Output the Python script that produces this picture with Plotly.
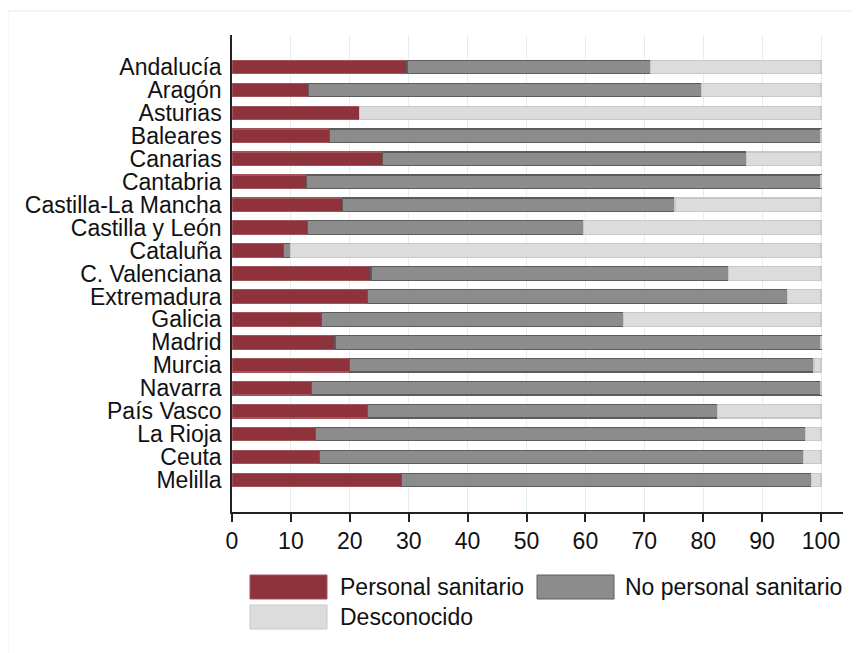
import plotly.graph_objects as go

regions = ["Andalucía", "Aragón", "Asturias", "Baleares", "Canarias", "Cantabria",
           "Castilla-La Mancha", "Castilla y León", "Cataluña", "C. Valenciana",
           "Extremadura", "Galicia", "Madrid", "Murcia", "Navarra", "País Vasco",
           "La Rioja", "Ceuta", "Melilla"]

personal_sanitario = [29.7, 13.0, 21.7, 16.6, 25.5, 12.7, 18.7, 12.8, 8.8, 23.6,
                      23.0, 15.2, 17.5, 20.0, 13.5, 23.0, 14.2, 14.9, 28.8]
no_personal_sanitario = [41.3, 66.7, 0.0, 83.4, 61.8, 87.3, 56.5, 46.9, 1.1, 60.7,
                         71.3, 51.2, 82.5, 78.8, 86.5, 59.4, 83.1, 82.1, 69.6]
desconocido = [29.0, 20.3, 78.3, 0.0, 12.7, 0.0, 24.8, 40.3, 90.1, 15.7,
               5.7, 33.6, 0.0, 1.2, 0.0, 17.6, 2.7, 3.0, 1.6]

x_ticks = [0, 10, 20, 30, 40, 50, 60, 70, 80, 90, 100]

series = [
    ("Personal sanitario", personal_sanitario, "#8e323c", "#a2545b"),
    ("No personal sanitario", no_personal_sanitario, "#8c8c8c", "#5c5c5c"),
    ("Desconocido", desconocido, "#dcdcdc", "#c8c8c8"),
]

FONT = "Arial, Liberation Sans, sans-serif"
FS = 23

fig = go.Figure()
for name, vals, fill, line in series:
    fig.add_trace(go.Bar(
        y=regions, x=vals, name=name, orientation="h",
        marker=dict(color=fill, line=dict(color=line, width=1.2)),
        width=0.59, showlegend=False,
    ))

# page offset (body margin) in the screenshot
OFF = 8
# plot area in screenshot pixels: left 232, right 843, top 35, bottom 512
PL, PR, PT, PB = 232, 843, 35, 512
def px(x):
    return (x - PL) / (PR - PL)
def py(y):
    return (PB - y) / (PB - PT)

shapes = []
annotations = []
# outer faint frame
shapes.append(dict(type="rect", xref="paper", yref="paper",
                   x0=px(8), x1=px(855), y0=py(680), y1=py(11),
                   line=dict(color="#ececec", width=1), fillcolor="rgba(0,0,0,0)",
                   layer="below"))

# legend drawn as swatches + text
legend_items = [
    (series[0], 250, 575, 340),
    (series[1], 537, 575, 625),
    (series[2], 250, 605, 340),
]
for (name, _, fill, line), sx, sy, tx in legend_items:
    shapes.append(dict(type="rect", xref="paper", yref="paper",
                       x0=px(sx), x1=px(sx + 77), y0=py(sy + 24), y1=py(sy),
                       fillcolor=fill, line=dict(color=line, width=1)))
    annotations.append(dict(xref="paper", yref="paper", x=px(tx - 2), y=py(sy + 12),
                            text=name, showarrow=False, xanchor="left", yanchor="middle",
                            font=dict(family=FONT, size=FS, color="#111111")))

ppu = 589.0 / 100.0
xmax = (PR - PL) / ppu
cat = (480 - 67) / 18.0

W, H = 861, 653
fig.update_layout(
    barmode="stack",
    width=W, height=H,
    margin=dict(l=PL - OFF, r=W - (PR - OFF), t=PT - OFF, b=H - (PB - OFF), pad=0),
    paper_bgcolor="white", plot_bgcolor="white",
    font=dict(family=FONT, size=FS, color="#111111"),
    xaxis=dict(range=[0, xmax], tickmode="array", tickvals=x_ticks, ticks="outside",
               ticklen=8, tickcolor="#222222", tickwidth=1.5, showline=True,
               linecolor="#222222", linewidth=1.5, showgrid=True, gridcolor="#e3eef1",
               gridwidth=1, zeroline=False,
               tickfont=dict(size=FS, family=FONT, color="#111111")),
    yaxis=dict(categoryorder="array", categoryarray=regions,
               tickmode="array", tickvals=regions, ticktext=regions,
               range=[18 + (PB - 480) / cat, -(67 - PT) / cat],
               showline=True, linecolor="#222222", linewidth=1.5, ticks="",
               showgrid=False, zeroline=False, ticklabelstandoff=4,
               tickfont=dict(size=FS, family=FONT, color="#111111")),
    shapes=shapes,
    annotations=annotations,
    showlegend=False,
)

fig.write_html("out.html")
